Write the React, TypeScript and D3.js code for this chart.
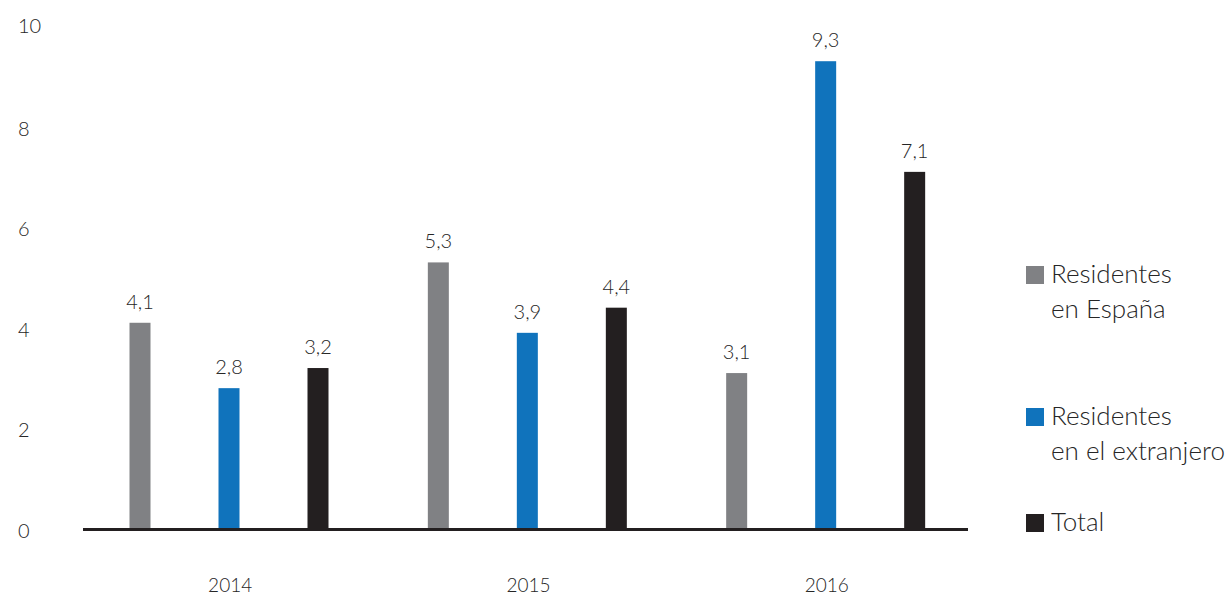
import React from "react";
import * as d3 from "d3";

const years = ["2014", "2015", "2016"];
const seriesNames = ["Residentes en España", "Residentes en el extranjero", "Total"];
const residentesEspana = [4.1, 5.3, 3.1];
const residentesExtranjero = [2.8, 3.9, 9.3];
const total = [3.2, 4.4, 7.1];
const yTicks = [0, 2, 4, 6, 8, 10];
const legendLines = [["Residentes", "en España"], ["Residentes", "en el extranjero"], ["Total"]];
const colors = ["#808184", "#1073BC", "#231F20"];

const W = 1228;
const H = 597;
const FONT = "'Source Sans Pro', Lato, 'Open Sans', sans-serif";
const TEXT = "#262626";

export default function App() {
  const seriesValues = [residentesEspana, residentesExtranjero, total];
  const x0 = d3.scaleBand<string>().domain(years).range([78, 973]).padding(0);
  const x1 = d3.scalePoint<string>().domain(seriesNames).range([62, 240]);
  const y = d3.scaleLinear().domain([0, 10]).range([529, 26]);
  const barW = 21;
  const fmt = (v: number) => v.toFixed(1).replace(".", ",");

  const legendTop = [283, 425, 531];

  return (
    <svg width={W} height={H} style={{ position: "absolute", left: 0, top: 0, background: "#fff" }} fontFamily={FONT}>
      {yTicks.map((t) => (
        <text key={t} x={18} y={y(t) + (t === 10 ? -1 : 1)} dominantBaseline="central" fontSize={20} fill={TEXT} fontWeight={300}>
          {t}
        </text>
      ))}
      {years.map((yr, gi) => (
        <g key={yr}>
          {seriesNames.map((s, si) => {
            const v = seriesValues[si][gi];
            const cx = (x0(yr) as number) + (x1(s) as number);
            return (
              <g key={s}>
                <rect x={cx - barW / 2} y={y(v)} width={barW} height={y(0) - y(v)} fill={colors[si]} />
                <text x={cx} y={y(v) - 14} textAnchor="middle" fontSize={20} fill={TEXT} fontWeight={300}>
                  {fmt(v)}
                </text>
              </g>
            );
          })}
          <text x={(x0(yr) as number) + x0.bandwidth() / 2 + 3} y={592} textAnchor="middle" fontSize={19} fill={TEXT} fontWeight={300}>
            {yr}
          </text>
        </g>
      ))}
      <line x1={83} x2={968} y1={529.5} y2={529.5} stroke="#231F20" strokeWidth={3} />
      {seriesNames.map((s, i) => (
        <g key={s}>
          <rect x={1026} y={legendTop[i] - 17} width={18} height={18} fill={colors[i]} />
          {legendLines[i].map((ln, li) => (
            <text key={li} x={1051} y={legendTop[i] + li * 35} fontSize={26} fill={TEXT} fontWeight={300}>
              {ln}
            </text>
          ))}
        </g>
      ))}
    </svg>
  );
}
